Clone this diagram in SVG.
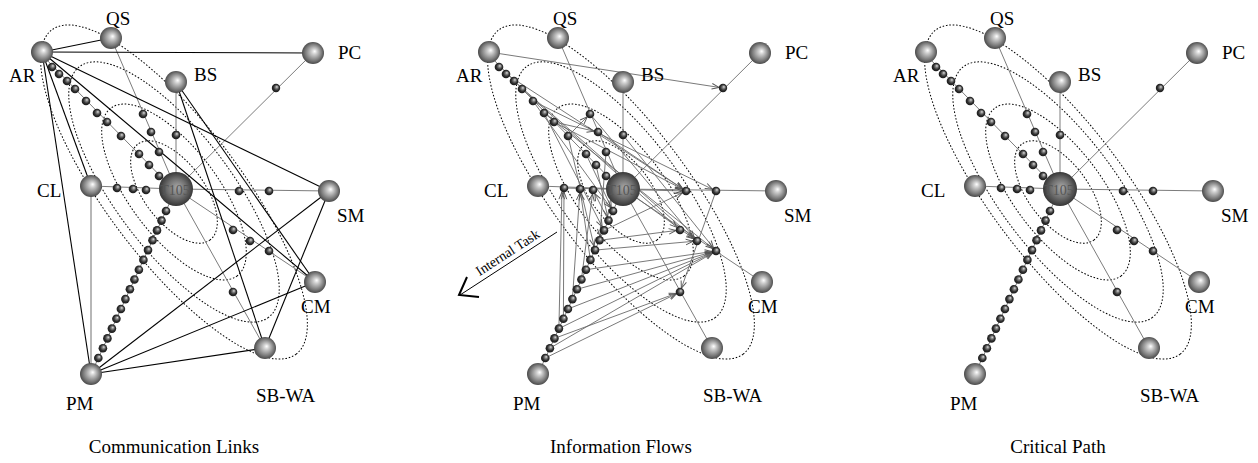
<svg xmlns="http://www.w3.org/2000/svg" xmlns:xlink="http://www.w3.org/1999/xlink" width="1258" height="463" viewBox="0 0 1258 463">
<style>
.orbit{fill:none;stroke:#000;stroke-width:1;stroke-dasharray:1.6 1.8}
.spoke{stroke:#7c7c7c;stroke-width:1;fill:none}
.link{stroke:#000;stroke-width:1.1;fill:none}
.glink{stroke:#7c7c7c;stroke-width:1.1;fill:none}
.flow{stroke:#6a6a6a;stroke-width:0.9;fill:none;marker-end:url(#ah)}
.node{fill:url(#gNode)}
.hub{fill:url(#gHub)}
.bead{fill:url(#gBead)}
.lbl{font-family:"Liberation Serif","Times New Roman",serif;font-size:19px;fill:#000}
.cap{font-family:"Liberation Serif","Times New Roman",serif;font-size:19px;fill:#000;text-anchor:middle}
.hubt{font-family:"Liberation Serif","Times New Roman",serif;font-size:14px;fill:#555;text-anchor:middle}
.task{font-family:"Liberation Serif","Times New Roman",serif;font-size:14px;fill:#000;text-anchor:middle}
</style>
<defs>
<radialGradient id="gNode" cx="0.5" cy="0.5" r="0.55" fx="0.58" fy="0.42">
<stop offset="0" stop-color="#ffffff"/>
<stop offset="0.22" stop-color="#cfcfcf"/>
<stop offset="0.68" stop-color="#7a7a7a"/>
<stop offset="1" stop-color="#3a3a3a"/>
</radialGradient>
<radialGradient id="gHub" cx="0.5" cy="0.5" r="0.55" fx="0.55" fy="0.45">
<stop offset="0" stop-color="#a8a8a8"/>
<stop offset="0.5" stop-color="#707070"/>
<stop offset="1" stop-color="#2a2a2a"/>
</radialGradient>
<radialGradient id="gBead" cx="0.5" cy="0.5" r="0.55" fx="0.62" fy="0.35">
<stop offset="0" stop-color="#e6e6e6"/>
<stop offset="0.25" stop-color="#8a8a8a"/>
<stop offset="0.6" stop-color="#333"/>
<stop offset="1" stop-color="#111"/>
</radialGradient>
<marker id="ah" viewBox="0 0 10 10" refX="15" refY="5" markerWidth="8" markerHeight="8" markerUnits="userSpaceOnUse" orient="auto">
<path d="M1,1.5 L10,5 L1,8.5" fill="none" stroke="#555" stroke-width="1.2"/>
</marker>
<g id="orbits">
<ellipse class="orbit" cx="0" cy="0" rx="203" ry="67" transform="translate(174,192) rotate(53)"/>
<ellipse class="orbit" cx="0" cy="0" rx="157" ry="58" transform="translate(174,192) rotate(53)"/>
<ellipse class="orbit" cx="0" cy="0" rx="105" ry="44" transform="translate(174,192) rotate(53)"/>
<ellipse class="orbit" cx="0" cy="0" rx="60" ry="30" transform="translate(174,192) rotate(53)"/>
</g>
<g id="spokes">
<line class="spoke" x1="42" y1="55" x2="174" y2="190"/>
<line class="spoke" x1="111" y1="38" x2="176" y2="189"/>
<line class="spoke" x1="176" y1="82" x2="176" y2="189"/>
<line class="spoke" x1="313" y1="53" x2="176" y2="189"/>
<line class="spoke" x1="91" y1="186" x2="176" y2="189"/>
<line class="spoke" x1="329" y1="191" x2="176" y2="189"/>
<line class="spoke" x1="315" y1="282" x2="176" y2="189"/>
<line class="spoke" x1="265" y1="348" x2="176" y2="189"/>
<line class="spoke" x1="91" y1="374" x2="176" y2="189"/>
</g>
<g id="beads">
<circle class="bead" cx="52" cy="67" r="4.3"/><circle class="bead" cx="59" cy="74" r="4.3"/><circle class="bead" cx="67" cy="81" r="4.3"/><circle class="bead" cx="75" cy="89" r="4.3"/><circle class="bead" cx="86" cy="101" r="4.3"/><circle class="bead" cx="97" cy="113" r="4.3"/><circle class="bead" cx="107" cy="122" r="4.3"/><circle class="bead" cx="121" cy="136" r="4.3"/><circle class="bead" cx="139" cy="154" r="4.3"/><circle class="bead" cx="149" cy="165" r="4.3"/><circle class="bead" cx="159" cy="176" r="4.3"/>
<circle class="bead" cx="143" cy="114" r="4.3"/><circle class="bead" cx="151" cy="132" r="4.3"/><circle class="bead" cx="159" cy="152" r="4.3"/>
<circle class="bead" cx="176" cy="135" r="4.3"/><circle class="bead" cx="276" cy="88" r="4.2"/>
<circle class="bead" cx="117" cy="188" r="4.3"/><circle class="bead" cx="133" cy="189" r="4.3"/><circle class="bead" cx="146" cy="190" r="4.3"/>
<circle class="bead" cx="239" cy="191" r="4.3"/><circle class="bead" cx="269" cy="191" r="4.3"/>
<circle class="bead" cx="233" cy="230" r="4.3"/><circle class="bead" cx="250" cy="241" r="4.3"/><circle class="bead" cx="269" cy="251" r="4.3"/>
<circle class="bead" cx="233" cy="292" r="4.3"/>
<circle class="bead" cx="166" cy="211" r="4.3"/><circle class="bead" cx="161.5" cy="220.6" r="4.3"/><circle class="bead" cx="157" cy="230.4" r="4.3"/><circle class="bead" cx="152.5" cy="240.3" r="4.3"/><circle class="bead" cx="148" cy="250.1" r="4.3"/><circle class="bead" cx="143.4" cy="259.9" r="4.3"/><circle class="bead" cx="138.9" cy="269.7" r="4.3"/><circle class="bead" cx="134.4" cy="279.5" r="4.3"/><circle class="bead" cx="129.9" cy="289.3" r="4.3"/><circle class="bead" cx="125.4" cy="299.1" r="4.3"/><circle class="bead" cx="120.9" cy="309" r="4.3"/><circle class="bead" cx="116.4" cy="318.8" r="4.3"/><circle class="bead" cx="111.9" cy="328.6" r="4.3"/><circle class="bead" cx="107.4" cy="338.4" r="4.3"/><circle class="bead" cx="102.9" cy="348.2" r="4.3"/><circle class="bead" cx="98.3" cy="358" r="4.3"/>
</g>
</defs>

<!-- Panel 1: Communication Links -->
<g id="panel1">
<use xlink:href="#orbits" href="#orbits"/>
<g id="p1-connectors">
<use xlink:href="#spokes" href="#spokes"/>
<line class="glink" x1="91" y1="186" x2="91" y2="374"/>
<line class="link" x1="42" y1="52" x2="111" y2="38"/>
<line class="link" x1="42" y1="52" x2="313" y2="53"/>
<line class="link" x1="42" y1="52" x2="329" y2="191"/>
<line class="link" x1="42" y1="52" x2="315" y2="282"/>
<line class="link" x1="42" y1="52" x2="91" y2="186"/>
<line class="link" x1="42" y1="52" x2="91" y2="374"/>
<line class="link" x1="176" y1="82" x2="315" y2="282"/>
<line class="link" x1="176" y1="82" x2="265" y2="348"/>
<line class="link" x1="329" y1="191" x2="91" y2="374"/>
<line class="link" x1="315" y1="282" x2="91" y2="374"/>
<line class="link" x1="265" y1="348" x2="91" y2="374"/>
<line class="link" x1="329" y1="191" x2="265" y2="348"/>
</g>
<use xlink:href="#beads" href="#beads"/>
<g id="p1-QS"><circle class="node" cx="111" cy="38" r="11"/><text class="lbl" x="106" y="25">QS</text></g>
<g id="p1-AR"><circle class="node" cx="42" cy="52" r="11"/><text class="lbl" x="9" y="82">AR</text></g>
<g id="p1-BS"><circle class="node" cx="176" cy="82" r="11"/><text class="lbl" x="194" y="81">BS</text></g>
<g id="p1-PC"><circle class="node" cx="313" cy="53" r="11"/><text class="lbl" x="338" y="59">PC</text></g>
<g id="p1-CL"><circle class="node" cx="91" cy="186" r="11"/><text class="lbl" x="37" y="197">CL</text></g>
<g id="p1-SM"><circle class="node" cx="329" cy="191" r="11"/><text class="lbl" x="337" y="222">SM</text></g>
<g id="p1-CM"><circle class="node" cx="315" cy="282" r="11"/><text class="lbl" x="301" y="313">CM</text></g>
<g id="p1-SBWA"><circle class="node" cx="265" cy="348" r="11"/><text class="lbl" x="256" y="402">SB-WA</text></g>
<g id="p1-PM"><circle class="node" cx="91" cy="374" r="11"/><text class="lbl" x="66" y="410">PM</text></g>
<g id="p1-T105"><circle class="hub" cx="176" cy="189" r="17"/><text class="hubt" x="175" y="195">T105</text></g>
<text class="cap" x="174" y="453">Communication Links</text>
</g>

<!-- Panel 2: Information Flows -->
<g id="panel2" transform="translate(447,0)">
<use xlink:href="#orbits" href="#orbits"/>
<g id="p2-connectors">
<use xlink:href="#spokes" href="#spokes"/>
<line class="flow" x1="42" y1="52" x2="276" y2="88"/>
<line class="flow" x1="59" y1="74" x2="239" y2="191"/>
<line class="flow" x1="67" y1="81" x2="250" y2="241"/>
<line class="flow" x1="75" y1="89" x2="233" y2="230"/>
<line class="flow" x1="86" y1="101" x2="269" y2="191"/>
<line class="flow" x1="97" y1="113" x2="269" y2="251"/>
<line class="flow" x1="143" y1="114" x2="250" y2="241"/>
<line class="flow" x1="151" y1="132" x2="239" y2="191"/>
<line class="flow" x1="121" y1="136" x2="143" y2="114"/>
<line class="flow" x1="107" y1="122" x2="151" y2="132"/>
<line class="flow" x1="139" y1="154" x2="166" y2="211"/>
<line class="flow" x1="97" y1="113" x2="157" y2="230.4"/>
<line class="flow" x1="121" y1="136" x2="148" y2="250.1"/>
<line class="flow" x1="149" y1="165" x2="161.5" y2="220.6"/>
<line class="flow" x1="159" y1="152" x2="152.5" y2="240.3"/>
<line class="flow" x1="116.4" y1="318.8" x2="117" y2="188"/>
<line class="flow" x1="111.9" y1="328.6" x2="115" y2="188"/>
<line class="flow" x1="125.4" y1="299.1" x2="133" y2="189"/>
<line class="flow" x1="143.4" y1="259.9" x2="133" y2="189"/>
<line class="flow" x1="134.4" y1="279.5" x2="146" y2="190"/>
<line class="flow" x1="117" y1="188" x2="239" y2="191"/>
<line class="flow" x1="152.5" y1="240.3" x2="233" y2="230"/>
<line class="flow" x1="148" y1="250.1" x2="250" y2="241"/>
<line class="flow" x1="138.9" y1="269.7" x2="269" y2="251"/>
<line class="flow" x1="129.9" y1="289.3" x2="269" y2="251"/>
<line class="flow" x1="120.9" y1="309" x2="269" y2="251"/>
<line class="flow" x1="111.9" y1="328.6" x2="269" y2="251"/>
<line class="flow" x1="107.4" y1="338.4" x2="233" y2="292"/>
<line class="flow" x1="102.9" y1="348.2" x2="269" y2="251"/>
<line class="flow" x1="98.3" y1="358" x2="233" y2="292"/>
<line class="flow" x1="269" y1="191" x2="233" y2="292"/>
<line class="flow" x1="157" y1="230.4" x2="239" y2="191"/>
<line class="flow" x1="159" y1="176" x2="250" y2="241"/>
<line class="flow" x1="161.5" y1="220.6" x2="146" y2="190"/>
<line class="flow" x1="86" y1="101" x2="166" y2="211"/>
<line class="flow" x1="176" y1="135" x2="269" y2="251"/>
<line class="flow" x1="107" y1="122" x2="239" y2="191"/>
</g>
<use xlink:href="#beads" href="#beads"/>
<g id="p2-QS"><circle class="node" cx="111" cy="38" r="11"/><text class="lbl" x="106" y="25">QS</text></g>
<g id="p2-AR"><circle class="node" cx="42" cy="52" r="11"/><text class="lbl" x="9" y="82">AR</text></g>
<g id="p2-BS"><circle class="node" cx="176" cy="82" r="11"/><text class="lbl" x="194" y="81">BS</text></g>
<g id="p2-PC"><circle class="node" cx="313" cy="53" r="11"/><text class="lbl" x="338" y="59">PC</text></g>
<g id="p2-CL"><circle class="node" cx="91" cy="186" r="11"/><text class="lbl" x="37" y="197">CL</text></g>
<g id="p2-SM"><circle class="node" cx="329" cy="191" r="11"/><text class="lbl" x="337" y="222">SM</text></g>
<g id="p2-CM"><circle class="node" cx="315" cy="282" r="11"/><text class="lbl" x="301" y="313">CM</text></g>
<g id="p2-SBWA"><circle class="node" cx="265" cy="348" r="11"/><text class="lbl" x="256" y="402">SB-WA</text></g>
<g id="p2-PM"><circle class="node" cx="91" cy="374" r="11"/><text class="lbl" x="66" y="410">PM</text></g>
<g id="p2-T105"><circle class="hub" cx="176" cy="189" r="17"/><text class="hubt" x="175" y="195">T105</text></g>
<g id="p2-legend">
<line x1="110" y1="232" x2="13" y2="295" stroke="#000" stroke-width="1"/>
<path d="M32,297 L12,295 L20,277" fill="none" stroke="#000" stroke-width="2"/>
<text class="task" transform="translate(61,253) rotate(-33)" x="0" y="4">Internal Task</text>
</g>
<text class="cap" x="174" y="453">Information Flows</text>
</g>

<!-- Panel 3: Critical Path -->
<g id="panel3" transform="translate(884,0)">
<use xlink:href="#orbits" href="#orbits"/>
<g id="p3-connectors">
<use xlink:href="#spokes" href="#spokes"/>
</g>
<use xlink:href="#beads" href="#beads"/>
<g id="p3-QS"><circle class="node" cx="111" cy="38" r="11"/><text class="lbl" x="106" y="25">QS</text></g>
<g id="p3-AR"><circle class="node" cx="42" cy="52" r="11"/><text class="lbl" x="9" y="82">AR</text></g>
<g id="p3-BS"><circle class="node" cx="176" cy="82" r="11"/><text class="lbl" x="194" y="81">BS</text></g>
<g id="p3-PC"><circle class="node" cx="313" cy="53" r="11"/><text class="lbl" x="338" y="59">PC</text></g>
<g id="p3-CL"><circle class="node" cx="91" cy="186" r="11"/><text class="lbl" x="37" y="197">CL</text></g>
<g id="p3-SM"><circle class="node" cx="329" cy="191" r="11"/><text class="lbl" x="337" y="222">SM</text></g>
<g id="p3-CM"><circle class="node" cx="315" cy="282" r="11"/><text class="lbl" x="301" y="313">CM</text></g>
<g id="p3-SBWA"><circle class="node" cx="265" cy="348" r="11"/><text class="lbl" x="256" y="402">SB-WA</text></g>
<g id="p3-PM"><circle class="node" cx="91" cy="374" r="11"/><text class="lbl" x="66" y="410">PM</text></g>
<g id="p3-T105"><circle class="hub" cx="176" cy="189" r="17"/><text class="hubt" x="175" y="195">T105</text></g>
<text class="cap" x="174" y="453">Critical Path</text>
</g>
</svg>
